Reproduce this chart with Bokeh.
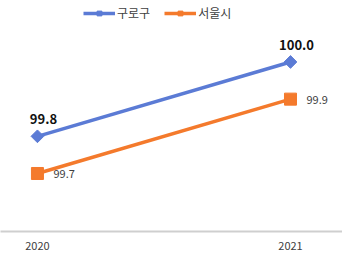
import math
from bokeh.plotting import figure
from bokeh.models import ColumnDataSource, Legend, LegendItem, FixedTicker
from bokeh.core.properties import value
from bokeh.embed import file_html
from bokeh.resources import INLINE

years = [2020, 2021]
guro = [99.8, 100.0]
seoul = [99.7, 99.9]
guro_labels = ["99.8", "100.0"]
seoul_labels = ["99.7", "99.9"]
series_names = ["구로구", "서울시"]

FONT = "Noto Sans CJK KR"
BLUE = "#5B7BD5"
ORANGE = "#F47A2C"

p = figure(width=342, height=252, output_backend="svg", toolbar_location=None,
           x_range=(2019.854, 2021.2055), y_range=(99.544, 100.1653),
           min_border_left=0, min_border_right=0, min_border_top=0, min_border_bottom=0)
p.outline_line_color = None
p.xgrid.visible = False
p.ygrid.visible = False
p.yaxis.visible = False
p.background_fill_color = "white"
p.border_fill_color = "white"

src = ColumnDataSource(dict(x=years, guro=guro, seoul=seoul, gl=guro_labels, sl=seoul_labels))

l1 = p.line("x", "guro", source=src, line_color=BLUE, line_width=3.5)
m1 = p.scatter("x", "guro", source=src, marker="square", angle=math.pi / 4, size=9, color=BLUE)
l2 = p.line("x", "seoul", source=src, line_color=ORANGE, line_width=3.5)
m2 = p.scatter("x", "seoul", source=src, marker="square", size=12, color=ORANGE)

p.text("x", "guro", text="gl", source=src, x_offset=6, y_offset=-17,
       text_align="center", text_baseline="middle", text_font=value(FONT),
       text_font_size="13px", text_font_style="bold", text_color="#111111")
p.text("x", "seoul", text="sl", source=src, x_offset=16, y_offset=1,
       text_align="left", text_baseline="middle", text_font=value(FONT),
       text_font_size="11px", text_color="#404040")

ax = p.xaxis[0]
ax.ticker = FixedTicker(ticks=years)
ax.major_tick_line_color = None
ax.minor_tick_line_color = None
ax.axis_line_color = "#CFCFCF"
ax.axis_line_width = 2
ax.major_label_text_font = FONT
ax.major_label_text_font_size = "11px"
ax.major_label_text_color = "#404040"
ax.major_label_standoff = 4

legend = Legend(items=[LegendItem(label=series_names[0], renderers=[l1, m1]),
                       LegendItem(label=series_names[1], renderers=[l2, m2])],
                location=(83, 210), orientation="horizontal",
                label_text_font=FONT, label_text_font_size="12px", label_text_color="#404040",
                glyph_width=32, glyph_height=12, spacing=14, padding=0, margin=0,
                label_standoff=2, border_line_color=None, background_fill_alpha=0)
p.add_layout(legend)

open("out.html", "w").write(file_html(p, INLINE))
